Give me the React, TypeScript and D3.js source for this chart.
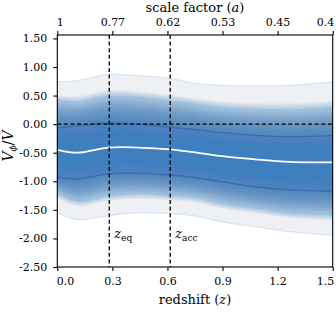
import React, {useEffect, useRef} from 'react';
import {select, scaleLinear, axisBottom, axisTop, axisLeft, area, line, curveCatmullRom} from 'd3'

// quantile curves of V_phi/V
const redshift = [0, 0.11, 0.28, 0.44, 0.61, 0.74, 0.9, 1.09, 1.27, 1.5];
const outerHi = [0.74, 0.76, 0.87, 0.85, 0.80, 0.72, 0.68, 0.67, 0.68, 0.74];
const midHi = [0.41, 0.38, 0.48, 0.46, 0.40, 0.35, 0.28, 0.25, 0.24, 0.28];
const innerHi = [-0.07, -0.03, 0.02, 0.0, -0.05, -0.09, -0.15, -0.2, -0.22, -0.2];
const median = [-0.45, -0.5, -0.41, -0.41, -0.44, -0.49, -0.56, -0.62, -0.66, -0.67];
const innerLo = [-0.93, -0.96, -0.87, -0.86, -0.89, -0.93, -1.01, -1.1, -1.15, -1.17];
const midLo = [-1.2, -1.34, -1.24, -1.21, -1.24, -1.27, -1.38, -1.47, -1.55, -1.58];
const outerLo = [-1.55, -1.67, -1.6, -1.55, -1.56, -1.6, -1.71, -1.8, -1.88, -1.94];

const zTicks = [0, 0.3, 0.6, 0.9, 1.2, 1.5];
const zTickLabels = ['0.0', '0.3', '0.6', '0.9', '1.2', '1.5'];
const aTickLabels = ['1', '0.77', '0.62', '0.53', '0.45', '0.4'];
const yTicks = [1.5, 1, 0.5, 0, -0.5, -1, -1.5, -2, -2.5];
const zEq = 0.283;
const zAcc = 0.615;

const W = 336, H = 314;
const left = 57.3, right = 332.7, top = 35, bottom = 267;
const FONT = 'DejaVu Serif';

const App = (): JSX.Element => {
    const svgRef = useRef(null);

    const xScale = scaleLinear().domain([0, 1.5]).range([left, right]);
    const yScale = scaleLinear().domain([-2.5, 1.56]).range([bottom, top]);

    useEffect(() => {
        const svg = select(svgRef.current);
        svg.selectAll('*').remove();

        const uppers = [outerHi, midHi, innerHi, median];
        const lowers = [outerLo, midLo, innerLo, median];
        const at = (arrs: number[][], s: number, k: number) => {
            const i = Math.min(Math.floor(s), arrs.length - 2);
            const f = s - i;
            return arrs[i][k] + (arrs[i + 1][k] - arrs[i][k]) * f;
        };

        const band = area<number>()
            .x((d) => xScale(redshift[d]))
            .curve(curveCatmullRom);
        const idx = redshift.map((_, i) => i);

        const plot = svg.append('g');

        // pale base between outer curves
        plot.append('path')
            .attr('d', band.y0((k) => yScale(outerLo[k])).y1((k) => yScale(outerHi[k]))(idx))
            .attr('fill', '#eef0f3');

        // density layers
        const N = 100;
        for (let j = 0; j < N; j++) {
            const s = 0.7 + (2.3 * j) / N;
            plot.append('path')
                .attr('d', band.y0((k) => yScale(at(lowers, s, k))).y1((k) => yScale(at(uppers, s, k)))(idx))
                .attr('fill', '#4a85bb')
                .attr('fill-opacity', 0.032);
        }

        const myLine = line<number>()
            .x((v, i) => xScale(redshift[i]))
            .y((v) => yScale(v))
            .curve(curveCatmullRom);

        const lines: [number[], string, number][] = [
            [outerHi, '#d3e5f4', 1.2],
            [outerLo, '#d3e5f4', 1.2],
            [midHi, '#90c1e8', 1.3],
            [midLo, '#90c1e8', 1.3],
            [innerHi, '#2f70aa', 1.3],
            [innerLo, '#2f70aa', 1.3],
            [median, '#ffffff', 1.8],
        ];
        lines.forEach(([d, c, w]) => {
            plot.append('path')
                .attr('d', myLine(d))
                .attr('fill', 'none')
                .attr('stroke', c)
                .attr('stroke-width', w);
        });

        // reference lines
        const dash = '4,2.6';
        plot.append('line')
            .attr('x1', left).attr('x2', right)
            .attr('y1', yScale(0)).attr('y2', yScale(0))
            .attr('stroke', 'black').attr('stroke-width', 1.3).attr('stroke-dasharray', dash);
        [zEq, zAcc].forEach((z) => {
            plot.append('line')
                .attr('x1', xScale(z)).attr('x2', xScale(z))
                .attr('y1', top).attr('y2', bottom)
                .attr('stroke', 'black').attr('stroke-width', 1.3).attr('stroke-dasharray', dash);
        });

        const zLabel = (z: number, sub: string) => {
            const t = plot.append('text')
                .attr('x', xScale(z) + 5)
                .attr('y', 238)
                .attr('font-family', FONT)
                .attr('font-size', 13);
            t.append('tspan').attr('font-style', 'italic').text('z');
            t.append('tspan').attr('font-size', 9).attr('dy', 3).text(sub);
        };
        zLabel(zEq, 'eq');
        zLabel(zAcc, 'acc');

        // frame
        svg.append('rect')
            .attr('x', left).attr('y', top)
            .attr('width', right - left).attr('height', bottom - top)
            .attr('fill', 'none').attr('stroke', 'black').attr('stroke-width', 1.1);

        const styleAxis = (g: any) => {
            g.attr('font-family', FONT);
            g.select('.domain').remove();
            g.selectAll('line').attr('stroke', 'black').attr('stroke-width', 1.1);
            g.selectAll('text').attr('font-family', FONT).attr('font-size', 11).attr('fill', 'black');
        };
        // outermost labels sit inside the frame's span
        const edgeLabels = (g: any) => {
            const t = g.selectAll('text');
            t.filter((d: number) => d === zTicks[0]).attr('text-anchor', 'start').attr('dx', -1);
            t.filter((d: number) => d === zTicks[zTicks.length - 1]).attr('text-anchor', 'end').attr('dx', 1);
        };

        svg.append('g')
            .attr('transform', `translate(0,${bottom})`)
            .call(axisBottom(xScale).tickValues(zTicks).tickSize(4).tickPadding(6)
                .tickFormat((d, i) => zTickLabels[i]))
            .call(styleAxis)
            .call(edgeLabels);

        svg.append('g')
            .attr('transform', `translate(0,${top})`)
            .call(axisTop(xScale).tickValues(zTicks).tickSize(4).tickPadding(5)
                .tickFormat((d, i) => aTickLabels[i]))
            .call(styleAxis)
            .call(edgeLabels);

        svg.append('g')
            .attr('transform', `translate(${left},0)`)
            .call(axisLeft(yScale).tickValues(yTicks).tickSize(4).tickPadding(6)
                .tickFormat((d) => (+d).toFixed(2)))
            .call(styleAxis);

        // axis titles
        const xt = svg.append('text')
            .attr('x', (left + right) / 2).attr('y', 304)
            .attr('text-anchor', 'middle')
            .attr('font-family', FONT).attr('font-size', 13);
        xt.append('tspan').text('redshift (');
        xt.append('tspan').attr('font-style', 'italic').text('z');
        xt.append('tspan').text(')');

        const at_ = svg.append('text')
            .attr('x', (left + right) / 2).attr('y', 12)
            .attr('text-anchor', 'middle')
            .attr('font-family', FONT).attr('font-size', 13);
        at_.append('tspan').text('scale factor (');
        at_.append('tspan').attr('font-style', 'italic').text('a');
        at_.append('tspan').text(')');

        const yt = svg.append('text')
            .attr('transform', `translate(13,${(top + bottom) / 2 - 5}) rotate(-90)`)
            .attr('text-anchor', 'middle')
            .attr('font-family', FONT).attr('font-size', 14);
        yt.append('tspan').attr('font-style', 'italic').text('V');
        yt.append('tspan').attr('font-style', 'italic').attr('font-size', 9).attr('dy', 3).text('ϕ');
        yt.append('tspan').attr('dy', -3).text('/');
        yt.append('tspan').attr('font-style', 'italic').text('V');
    }, []);

    return (
        <svg
            ref={svgRef}
            xmlns="http://www.w3.org/2000/svg"
            width={W}
            height={H}
            viewBox={`0 0 ${W} ${H}`}
            style={{position: 'absolute', left: 0, top: 0, background: 'white'}}
        />
    );
}

export default App;
